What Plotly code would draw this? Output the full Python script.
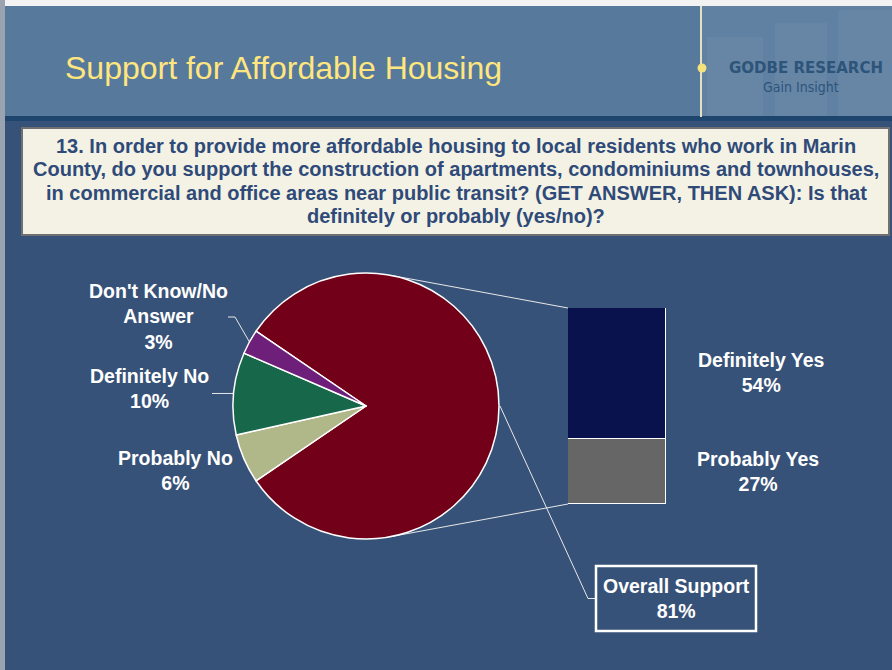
import math
import plotly.graph_objects as go

W, H = 892, 670

# ---------------- data ----------------
pie_labels = ["Overall Support", "Probably No", "Definitely No", "Don't Know/No Answer"]
pie_values = [81, 6, 10, 3]
pie_colors = ["#720018", "#b0b88a", "#17684a", "#6e1f7a"]

bar_labels = ["Probably Yes", "Definitely Yes"]
bar_values = [27, 54]
bar_colors = ["#666666", "#0a124e"]

title_text = "Support for Affordable Housing"
question_lines = [
    "13. In order to provide more affordable housing to local residents who work in Marin",
    "County, do you support the construction of apartments, condominiums and townhouses,",
    "in commercial and office areas near public transit? (GET ANSWER, THEN ASK): Is that",
    "definitely or probably (yes/no)?",
]
logo_main = "GODBE RESEARCH"
logo_sub = "Gain Insight"

# ---------------- geometry helpers ----------------
def px(x):
    return x / W


def py(y):
    return 1 - y / H


CX, CY, R = 366, 406, 133          # pie centre / radius in pixels
BAR_X0, BAR_X1 = 568, 666          # bar box in pixels
BAR_Y0, BAR_Y1 = 308, 504

total = sum(pie_values)
rotation = 90 - pie_values[0] / total * 360 / 2   # split slice centred on the right


def pie_pt(theta_deg, r=R):
    t = math.radians(theta_deg)
    return CX + r * math.sin(t), CY - r * math.cos(t)


mid_angles = []
acc = rotation
for v in pie_values:
    span = v / total * 360
    mid_angles.append(acc + span / 2)
    acc += span

FONT = "Liberation Sans, Arial, sans-serif"

fig = go.Figure()

fig.add_trace(go.Pie(
    labels=pie_labels,
    values=pie_values,
    sort=False,
    direction="clockwise",
    rotation=rotation,
    marker=dict(colors=pie_colors, line=dict(color="white", width=1.5)),
    textinfo="none",
    hoverinfo="label+percent",
    showlegend=False,
    domain=dict(x=[px(CX - R), px(CX + R)], y=[py(CY + R), py(CY - R)]),
))

for lab, val, col in zip(bar_labels, bar_values, bar_colors):
    fig.add_trace(go.Bar(
        x=["Support"], y=[val], name=lab, width=[1],
        marker=dict(color=col, line=dict(color="white", width=1.5)),
        showlegend=False, hoverinfo="name+y",
    ))

shapes = []
shapes.append(dict(type="rect", xref="paper", yref="paper", x0=0, x1=1, y0=py(0), y1=py(6),
                   fillcolor="#f2f2f2", line_width=0, layer="below"))
shapes.append(dict(type="rect", xref="paper", yref="paper", x0=0, x1=1, y0=py(6), y1=py(117),
                   fillcolor="#57799c", line_width=0, layer="below"))
shapes.append(dict(type="rect", xref="paper", yref="paper", x0=px(701), x1=1, y0=py(6), y1=py(117),
                   fillcolor="#6181a2", line_width=0, layer="below"))
for (a, b, top) in [(707, 763, 37), (775, 827, 23), (838, 892, 10)]:
    shapes.append(dict(type="rect", xref="paper", yref="paper", x0=px(a), x1=px(b), y0=py(top), y1=py(117),
                       fillcolor="rgba(255,255,255,0.045)", line_width=0, layer="below"))
shapes.append(dict(type="rect", xref="paper", yref="paper", x0=0, x1=1, y0=py(116), y1=py(121),
                   fillcolor="#1d456e", line_width=0, layer="below"))
shapes.append(dict(type="rect", xref="paper", yref="paper", x0=0, x1=px(5), y0=py(0), y1=py(H),
                   fillcolor="#9aa3b0", line_width=0, layer="below"))
shapes.append(dict(type="line", xref="paper", yref="paper", x0=px(701), x1=px(701), y0=py(6), y1=py(117),
                   line=dict(color="#e4e0c4", width=2), layer="below"))
shapes.append(dict(type="circle", xref="paper", yref="paper", x0=px(697.5), x1=px(706.5), y0=py(72.5), y1=py(63.5),
                   fillcolor="#f4e27c", line_width=0, layer="below"))
shapes.append(dict(type="rect", xref="paper", yref="paper", x0=px(22), x1=px(889), y0=py(235), y1=py(128),
                   fillcolor="#f3f2e5", line=dict(color="#707070", width=2), layer="below"))


def tangent(corner, upper):
    vx, vy = corner[0] - CX, corner[1] - CY
    d = math.hypot(vx, vy)
    a = math.atan2(vy, vx)
    b = math.acos(R / d)
    ang = a - b if upper else a + b
    return CX + R * math.cos(ang), CY + R * math.sin(ang)


for corner, upper in [((BAR_X0, BAR_Y0), True), ((BAR_X0, BAR_Y1), False)]:
    tx, ty = tangent(corner, upper)
    shapes.append(dict(type="line", xref="paper", yref="paper", x0=px(tx), y0=py(ty),
                       x1=px(corner[0]), y1=py(corner[1]),
                       line=dict(color="#e8e8e8", width=1), layer="below"))


def path(points):
    return "M " + " L ".join(f"{px(x)},{py(y)}" for x, y in points)


sx, sy = pie_pt(mid_angles[0], R + 1)
BOX = (596, 566, 756, 631)
box_mid = (BOX[1] + BOX[3]) / 2
shapes.append(dict(type="path", xref="paper", yref="paper",
                   path=path([(sx, sy), (BOX[0] - 8, box_mid), (BOX[0], box_mid)]),
                   line=dict(color="#e8e8e8", width=1), layer="below"))
shapes.append(dict(type="rect", xref="paper", yref="paper", x0=px(BOX[0]), x1=px(BOX[2]),
                   y0=py(BOX[3]), y1=py(BOX[1]), line=dict(color="white", width=2.5), layer="above"))

ex, ey = pie_pt(mid_angles[3])
shapes.append(dict(type="path", xref="paper", yref="paper",
                   path=path([(228, 317), (235, 317), (ex, ey)]),
                   line=dict(color="#e8e8e8", width=1), layer="below"))
ex, ey = pie_pt(mid_angles[2])
shapes.append(dict(type="path", xref="paper", yref="paper",
                   path=path([(212, ey), (ex, ey)]),
                   line=dict(color="#e8e8e8", width=1), layer="below"))

ann = []
ann.append(dict(x=px(63), y=py(68), xanchor="left", yanchor="middle", text=title_text,
                font=dict(family=FONT, size=32, color="#ffe67e")))
ann.append(dict(x=px(806), y=py(68), xanchor="center", yanchor="middle", text=f"<b>{logo_main}</b>",
                font=dict(family="DejaVu Sans, Open Sans", size=15, color="#2d5479")))
ann.append(dict(x=px(801), y=py(87), xanchor="center", yanchor="middle", text=logo_sub,
                font=dict(family="Liberation Sans Narrow, DejaVu Sans Condensed, Liberation Sans", size=14, color="#2d5479")))

for i, line in enumerate(question_lines):
    ann.append(dict(x=px(456), y=py(146 + 23.3 * i), xanchor="center", yanchor="middle",
                    text=f"<b>{line}</b>", font=dict(family=FONT, size=20, color="#2f4a78")))

label_pos = {
    "Probably No": (175, 470),
    "Definitely No": (149, 388),
    "Don't Know/No Answer": (158, 316),
}
LSIZE = 19.5
for lab, val in zip(pie_labels, pie_values):
    if lab in label_pos:
        x, y = label_pos[lab]
        ann.append(dict(x=px(x), y=py(y), xanchor="center", yanchor="middle", align="center",
                        text=f"<b>{lab.replace('/No ', '/No<br>')}<br>{val}%</b>",
                        font=dict(family=FONT, size=LSIZE, color="white")))

bar_label_pos = {"Definitely Yes": (761, 372), "Probably Yes": (758, 471)}
for lab, val in zip(bar_labels, bar_values):
    x, y = bar_label_pos[lab]
    ann.append(dict(x=px(x), y=py(y), xanchor="center", yanchor="middle", align="center",
                    text=f"<b>{lab}<br>{val}%</b>", font=dict(family=FONT, size=LSIZE, color="white")))

ann.append(dict(x=px((BOX[0] + BOX[2]) / 2), y=py(box_mid), xanchor="center", yanchor="middle", align="center",
                text=f"<b>{pie_labels[0]}<br>{pie_values[0]}%</b>",
                font=dict(family=FONT, size=LSIZE, color="white")))

for a in ann:
    a.update(xref="paper", yref="paper", showarrow=False)

fig.update_layout(
    width=W, height=H,
    margin=dict(l=0, r=0, t=0, b=0, pad=0),
    paper_bgcolor="#375278",
    plot_bgcolor="rgba(0,0,0,0)",
    barmode="stack",
    bargap=0,
    xaxis=dict(domain=[px(BAR_X0), px(BAR_X1)], range=[-0.5, 0.5], visible=False, fixedrange=True),
    yaxis=dict(domain=[py(BAR_Y1), py(BAR_Y0)], range=[0, sum(bar_values)], visible=False, fixedrange=True),
    shapes=shapes,
    annotations=ann,
)

fig.write_html("out.html", config={"displayModeBar": False},
               post_script="document.body.style.margin='0';document.body.style.padding='0';")
